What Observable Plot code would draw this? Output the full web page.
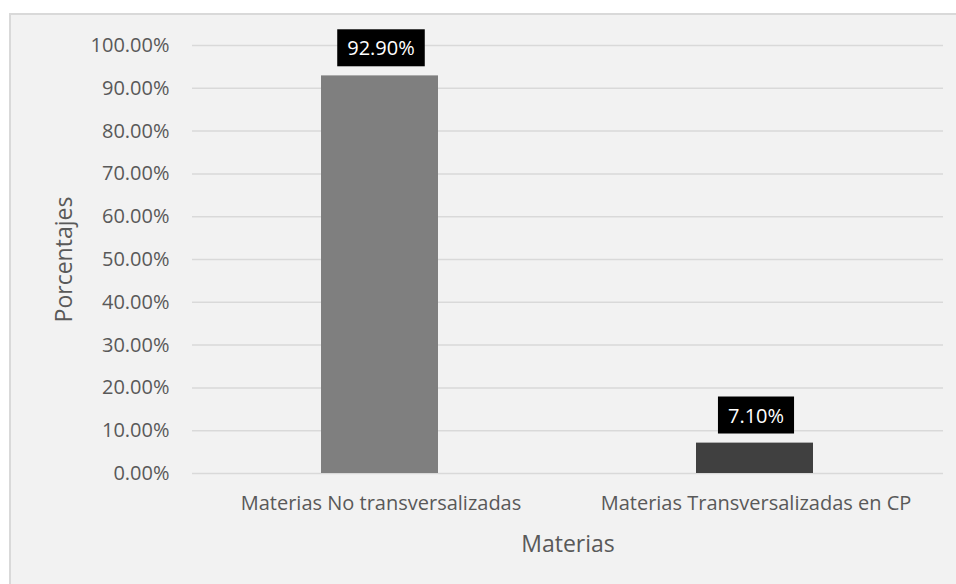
<!DOCTYPE html>
<html>
<head>
<meta charset="utf-8">
<script src="https://cdn.jsdelivr.net/npm/d3@7"></script>
<script src="https://cdn.jsdelivr.net/npm/@observablehq/plot@0.6"></script>
<style>
  html, body { margin: 0; padding: 0; background: #ffffff; }
  #top { height: 13px; background: #ffffff; }
  #frame {
    margin-left: 9px;
    border-left: 2px solid #d9d9d9;
    border-top: 2px solid #d9d9d9;
    background: #f2f2f2;
    width: 945px;
    height: 569px;
    overflow: hidden;
  }
  #frame svg { display: block; background: #f2f2f2; }
</style>
</head>
<body>
<div id="top"></div>
<div id="frame"></div>
<script>
const categories = ["Materias No transversalizadas", "Materias Transversalizadas en CP"];
const values = [0.929, 0.071];
const valueLabels = ["92.90%", "7.10%"];
const yTicks = [0, 0.1, 0.2, 0.3, 0.4, 0.5, 0.6, 0.7, 0.8, 0.9, 1.0];
const barColors = ["#7f7f7f", "#404040"];

const data = categories.map((c, i) => ({category: c, value: values[i], label: valueLabels[i], color: barColors[i]}));

const fontFamily = "'Open Sans', 'Liberation Sans', sans-serif";

const chart = Plot.plot({
  width: 945,
  height: 569,
  marginLeft: 181,
  marginRight: 13,
  marginTop: 30,
  marginBottom: 111,
  style: {background: "#f2f2f2", fontFamily, color: "#595959"},
  x: {domain: categories, padding: 0, label: null},
  y: {domain: [0, 1], label: null},
  marks: [
    Plot.gridY(yTicks, {stroke: "#d9d9d9", strokeOpacity: 1, strokeWidth: 1.5}),
    Plot.barY(data, {x: "category", y: "value", fill: "color", insetLeft: 128, insetRight: 130}),
    Plot.axisX({tickSize: 0, tickPadding: 22, fontSize: 20, fill: "#595959", label: "Materias", labelAnchor: "center", labelOffset: 78, labelArrow: "none"}),
    Plot.axisY(yTicks, {tickSize: 0, tickPadding: 23, fontSize: 20, fill: "#595959", tickFormat: d3.format(".2%"), label: "Porcentajes", labelAnchor: "center", labelOffset: 137, labelArrow: "none"}),
    Plot.text(data, {x: "category", y: "value", text: "label", dy: -27, fill: "white", fontSize: 20, className: "vlabel"})
  ]
});

document.getElementById("frame").appendChild(chart);

// axis title styling
d3.select(chart).selectAll('g[aria-label="x-axis label"] text, g[aria-label="y-axis label"] text')
  .style("font-size", "23px").attr("fill", "#595959");

// Black boxes behind value labels
d3.select(chart).selectAll("g.vlabel text").each(function() {
  const bb = this.getBBox();
  const padX = 10, padY = 5;
  const t = this.getAttribute("transform");
  d3.select(this.parentNode).insert("rect", () => this)
    .attr("x", bb.x - padX).attr("y", bb.y - padY)
    .attr("width", bb.width + 2 * padX).attr("height", bb.height + 2 * padY)
    .attr("transform", t)
    .attr("fill", "#000000");
});
</script>
</body>
</html>
